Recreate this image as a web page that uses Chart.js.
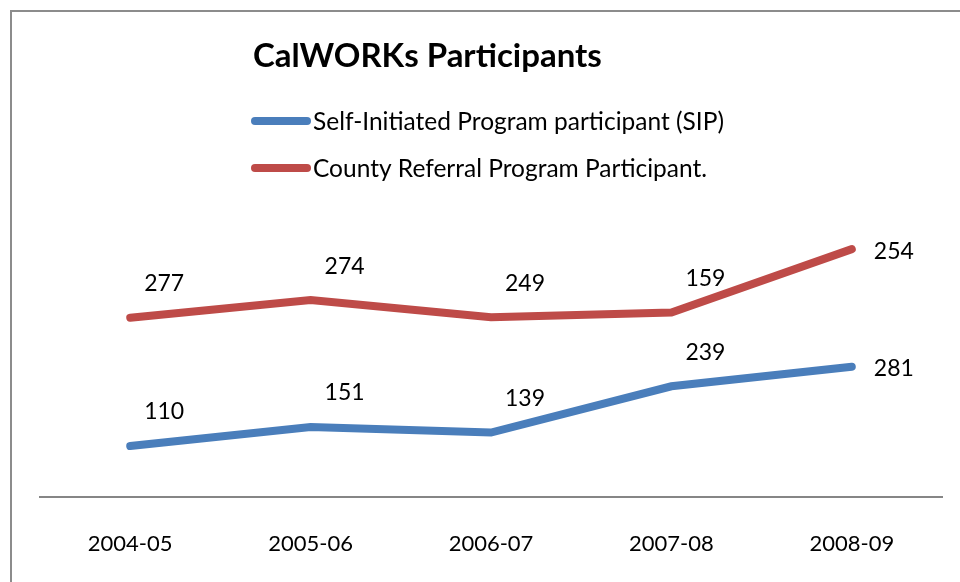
<!DOCTYPE html>
<html>
<head>
<meta charset="utf-8">
<script src="https://cdn.jsdelivr.net/npm/chart.js@4/dist/chart.umd.min.js"></script>
<style>
  html, body { margin: 0; padding: 0; background: #fff; }
  #wrap { position: relative; width: 960px; height: 582px; overflow: hidden; }
</style>
</head>
<body>
<div id="wrap"><canvas id="calworksChart" width="960" height="582"></canvas></div>
<script>
const years = ["2004-05", "2005-06", "2006-07", "2007-08", "2008-09"];
const sipValues = [110, 151, 139, 239, 281];
const countyValues = [277, 274, 249, 159, 254];
const titleText = "CalWORKs Participants";
const seriesNames = ["Self-Initiated Program participant (SIP)", "County Referral Program Participant."];

const FONT = "Lato, 'Open Sans', sans-serif";

// border, title, legend and the value labels
const decorPlugin = {
  id: "decor",
  afterDraw(chart) {
    const c = chart.ctx;
    c.save();

    // outer frame (only left and top edges are visible)
    c.strokeStyle = "#8c8c8c";
    c.lineWidth = 2;
    c.beginPath();
    c.moveTo(11, 582);
    c.lineTo(11, 11);
    c.lineTo(960, 11);
    c.stroke();

    // title
    c.fillStyle = "#000";
    c.font = "bold 33px " + FONT;
    c.textAlign = "left";
    c.textBaseline = "middle";
    c.fillText(titleText, 253, 56);

    // legend, one item per row
    c.font = "24.5px " + FONT;
    chart.data.datasets.forEach((ds, i) => {
      const y = 121 + i * 47;
      c.strokeStyle = ds.borderColor;
      c.lineWidth = 8;
      c.lineCap = "round";
      c.beginPath();
      c.moveTo(255, y);
      c.lineTo(307, y);
      c.stroke();
      c.fillStyle = "#000";
      c.fillText(ds.label, 313, y + 1);
    });

    // value labels (raw values, not the stacked totals)
    c.font = "23px " + FONT;
    chart.data.datasets.forEach((ds, i) => {
      const meta = chart.getDatasetMeta(i);
      meta.data.forEach((pt, j) => {
        if (j === meta.data.length - 1) {
          c.textAlign = "left";
          c.fillText(ds.data[j], pt.x + 22, pt.y + 2);
        } else {
          c.textAlign = "center";
          c.fillText(ds.data[j], pt.x + 34, pt.y - 34);
        }
      });
    });

    c.restore();
  }
};

const ctx = document.getElementById("calworksChart").getContext("2d");

new Chart(ctx, {
  type: "line",
  data: {
    labels: years,
    datasets: [
      {
        label: seriesNames[0],
        data: sipValues,
        borderColor: "#4a7ebb",
        borderWidth: 8,
        borderCapStyle: "round",
        pointRadius: 0,
        fill: false,
        tension: 0,
      },
      {
        label: seriesNames[1],
        data: countyValues,
        borderColor: "#be4b48",
        borderWidth: 8,
        borderCapStyle: "round",
        pointRadius: 0,
        fill: false,
        tension: 0,
      },
    ],
  },
  options: {
    responsive: false,
    animation: false,
    devicePixelRatio: 1,
    layout: { padding: { top: 219, left: 40, right: 18, bottom: 0 } },
    plugins: {
      legend: { display: false },
      title: { display: false },
      tooltip: { enabled: false },
    },
    scales: {
      x: {
        offset: true,
        grid: { display: false },
        border: { display: true, color: "#868686", width: 2 },
        ticks: { color: "#000", padding: 26, font: { family: FONT, size: 22 } },
        afterFit(scale) { scale.height = 85; },
      },
      y: {
        display: false,
        stacked: true,
        min: 0,
        max: 600,
      },
    },
  },
  plugins: [decorPlugin],
});
</script>
</body>
</html>
